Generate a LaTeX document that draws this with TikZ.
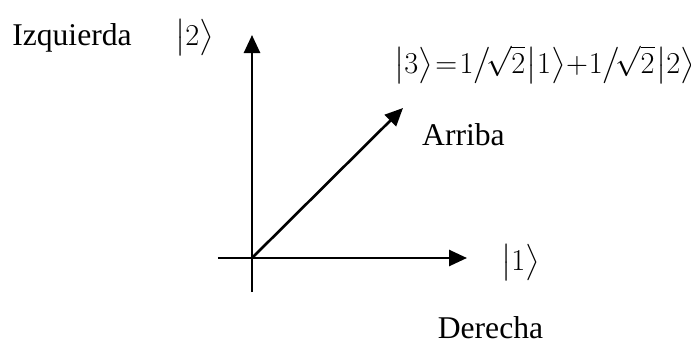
\documentclass[tikz,border=0pt]{standalone}
\usepackage{amsmath}
\usepackage{fontspec}
\setmainfont{Liberation Serif}
\usetikzlibrary{arrows.meta}

\newcommand{\ket}[1]{\bigl|#1\bigr\rangle}

\begin{document}
\begin{tikzpicture}[
  axis/.style={line width=1.5pt, -{Triangle[length=0.36cm, width=0.32cm]}},
  lbl/.style={font=\fontsize{18}{21}\selectfont, inner sep=0pt, anchor=base}
]
  \useasboundingbox (-5.04,-1.70) rectangle (8.78,5.16);

  % Axis points
  \coordinate (o) at (0,0);
  \coordinate (xstart) at (-0.68,0);
  \coordinate (xend) at (4.30,0);
  \coordinate (ystart) at (0,-0.68);
  \coordinate (yend) at (0,4.46);
  \coordinate (diag) at (3.02,3.00);

  % Axes and state vector
  \draw[axis] (xstart) -- (xend);
  \draw[axis] (ystart) -- (yend);
  \draw[axis] (o) -- (diag);

  % Labels
  \node[lbl] (izq) at (-3.60,4.26) {Izquierda};
  \node[lbl] (ket2) at (-1.15,4.26) {$\ket{2}$};
  \node[lbl, anchor=base west] (ket3eq) at (2.84,3.70)
    {\medmuskip=0.5mu\thickmuskip=1.5mu$\ket{3}=1\big/\!\sqrt{2}\mkern1mu\ket{1}+1\big/\!\sqrt{2}\mkern1mu\ket{2}$};
  \node[lbl] (arriba) at (4.23,2.26) {Arriba};
  \node[lbl] (ket1) at (5.37,-0.24) {$\ket{1}$};
  \node[lbl] (derecha) at (4.77,-1.60) {Derecha};

\end{tikzpicture}
\end{document}
